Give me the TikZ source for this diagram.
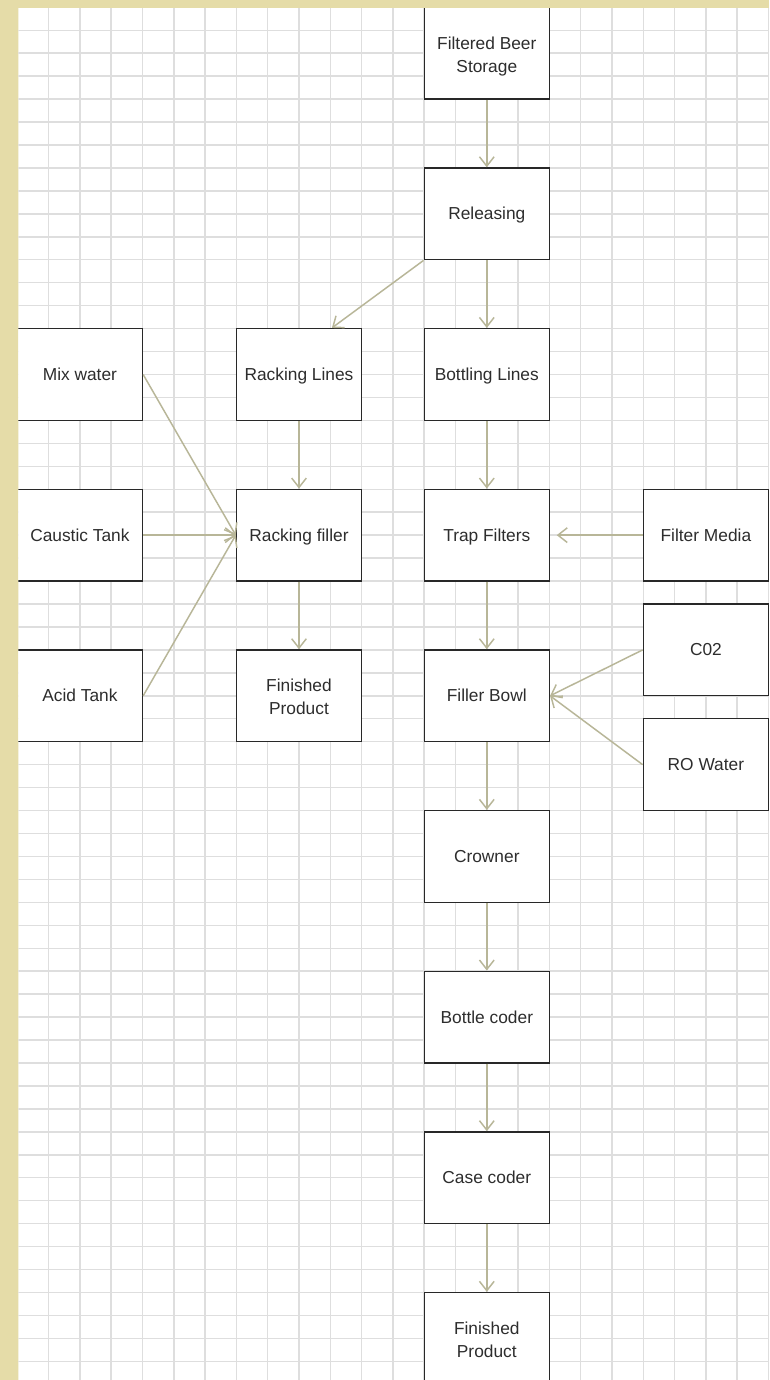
\documentclass[tikz,border=0pt]{standalone}
\usepackage{fontspec}
\setmainfont{Liberation Sans}
\usetikzlibrary{arrows.meta,calc}
\definecolor{beige}{RGB}{229,220,168}
\definecolor{gridc}{RGB}{222,222,222}
\definecolor{arrc}{RGB}{184,182,152}
\definecolor{boxline}{RGB}{40,40,40}
\definecolor{txt}{RGB}{45,45,45}
\newcommand{\firstlinestrut}{\rule{0pt}{14pt}}
\begin{document}
\begin{tikzpicture}[x=23.475pt,y=-17.2125pt,
 box/.style={draw=boxline,line width=1pt,fill=white,minimum width=93.9pt,minimum height=68.85pt,inner sep=0pt,align=center,text=txt,font=\fontsize{13}{17.25}\selectfont,
   execute at begin node={\rule[-2.8pt]{0pt}{14.6pt}},
   execute at end node={\rule[-2.8pt]{0pt}{0pt}}},
 flow/.style={draw=arrc,line width=1.1pt,-{Straight Barb[length=7pt,width=11pt]}},
 gridl/.style={draw=gridc,line width=1.1pt}]
\useasboundingbox (-0.5527,-0.3181) rectangle (24.016,59.813);
\fill[beige] (-0.5527,-0.3181) rectangle (24.016,59.813);
\begin{scope}
\clip (0.035,0.06) rectangle (24.016,59.813);
\fill[white] (0,0) rectangle (24.016,59.813);
\foreach \i in {0,...,24} \draw[gridl] (\i,0) -- (\i,59.813);
\foreach \j in {0,...,59} \draw[gridl] (0,\j) -- (24.016,\j);
% nodes
\node[box] (fbs) at (15,2) {\firstlinestrut Filtered Beer\\Storage};
\node[box] (rel) at (15,9) {Releasing};
\node[box] (rackl) at (9,16) {Racking Lines};
\node[box] (bottl) at (15,16) {Bottling Lines};
\node[box] (mix) at (2,16) {Mix water};
\node[box] (caustic) at (2,23) {Caustic Tank};
\node[box] (rackf) at (9,23) {Racking filler};
\node[box] (trap) at (15,23) {Trap Filters};
\node[box] (fmedia) at (22,23) {Filter Media};
\node[box] (acid) at (2,30) {Acid Tank};
\node[box] (finl) at (9,30) {\firstlinestrut Finished\\Product};
\node[box] (filler) at (15,30) {Filler Bowl};
\node[box] (co2) at (22,28) {C02};
\node[box] (ro) at (22,33) {RO Water};
\node[box] (crown) at (15,37) {Crowner};
\node[box] (bcoder) at (15,44) {Bottle coder};
\node[box] (ccoder) at (15,51) {Case coder};
\node[box] (fin) at (15,58) {\firstlinestrut Finished\\Product};
% connectors
\draw[flow] (fbs) -- (rel);
\draw[flow] (rel) -- (bottl);
\draw[flow] (rel.south west) -- ($(rackl.north west)!0.76!(rackl.north east)$);
\draw[flow] (rackl) -- (rackf);
\draw[flow] (bottl) -- (trap);
\draw[flow] (mix.east) -- (rackf.west);
\draw[flow] (caustic.east) -- (rackf.west);
\draw[flow] (acid.east) -- (rackf.west);
\draw[flow] (rackf) -- (finl);
\draw[flow,shorten >=5pt] (fmedia.west) -- (trap.east);
\draw[flow] (trap) -- (filler);
\draw[flow] (co2.west) -- (filler.east);
\draw[flow] (ro.west) -- (filler.east);
\draw[flow] (filler) -- (crown);
\draw[flow] (crown) -- (bcoder);
\draw[flow] (bcoder) -- (ccoder);
\draw[flow] (ccoder) -- (fin);
\end{scope}
\end{tikzpicture}
\end{document}
